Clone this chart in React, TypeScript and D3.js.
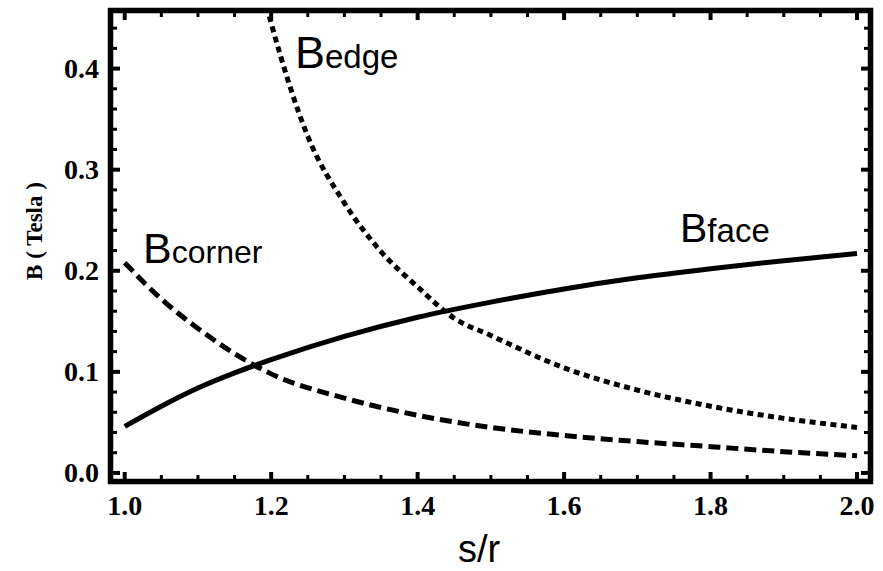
import React from "react";
import * as d3 from "d3";

// Field strength B (Tesla) versus the ratio s/r
const sFace = [1.0, 1.05, 1.1, 1.15, 1.2, 1.3, 1.4, 1.5, 1.6, 1.7, 1.8, 1.9, 2.0];
const bFace = [0.046, 0.066, 0.084, 0.099, 0.112, 0.135, 0.154, 0.169, 0.182, 0.193, 0.202, 0.21, 0.217];

const sCorner = [1.0, 1.05, 1.1, 1.15, 1.2, 1.3, 1.4, 1.5, 1.6, 1.7, 1.8, 1.9, 2.0];
const bCorner = [0.208, 0.172, 0.143, 0.118, 0.098, 0.074, 0.057, 0.045, 0.037, 0.031, 0.026, 0.021, 0.017];

const sEdge = [1.19, 1.2, 1.25, 1.3, 1.35, 1.4, 1.45, 1.5, 1.6, 1.7, 1.8, 1.9, 2.0];
const bEdge = [0.472, 0.445, 0.333, 0.267, 0.219, 0.184, 0.153, 0.136, 0.104, 0.082, 0.066, 0.054, 0.045];

const xMajorTicks = [1.0, 1.2, 1.4, 1.6, 1.8, 2.0];
const yMajorTicks = [0.0, 0.1, 0.2, 0.3, 0.4];

const W = 883;
const H = 571;
const left = 113;
const right = 868;
const top = 13;
const bottom = 479;

const x = d3.scaleLinear().domain([0.984, 2.015]).range([left, right]);
const y = d3.scaleLinear().domain([-0.006, 0.455]).range([bottom, top]);

const xMinor = d3.range(0, 21).map((i) => 1 + i * 0.05);
const yMinor = d3.range(0, 23).map((i) => i * 0.02);

const line = d3
  .line<[number, number]>()
  .x((d) => x(d[0]))
  .y((d) => y(d[1]))
  .curve(d3.curveMonotoneX);

const zip = (a: number[], b: number[]) => a.map((v, i) => [v, b[i]] as [number, number]);

const tickFont = "'Liberation Serif', 'Times New Roman', serif";
const labelFont = "'Liberation Sans', Arial, Helvetica, sans-serif";

function isMajor(v: number, majors: number[]) {
  return majors.some((m) => Math.abs(m - v) < 1e-6);
}

function Label({ px, py, sub, size, subSize }: { px: number; py: number; sub: string; size: number; subSize: number }) {
  return (
    <text x={px} y={py} fontFamily={labelFont} fill="#000">
      <tspan fontSize={size}>B</tspan>
      <tspan fontSize={subSize}>{sub}</tspan>
    </text>
  );
}

export default function App() {
  return (
    <svg
      width={W}
      height={H}
      style={{ position: "absolute", left: 0, top: 0, background: "#fff" }}
    >
      <defs>
        <clipPath id="plotArea">
          <rect x={left} y={top} width={right - left} height={bottom - top} />
        </clipPath>
      </defs>

      <g clipPath="url(#plotArea)" fill="none" stroke="#000" strokeWidth={5}>
        <path d={line(zip(sFace, bFace)) || ""} />
        <path d={line(zip(sCorner, bCorner)) || ""} strokeDasharray="12 6" />
        <path d={line(zip(sEdge, bEdge)) || ""} strokeDasharray="6 4.5" />
      </g>

      {/* ticks on all four sides, pointing inward */}
      <g stroke="#000">
        {xMinor.map((v, i) => {
          const major = isMajor(v, xMajorTicks);
          const len = major ? 7 : 4;
          const sw = major ? 4 : 3;
          return (
            <g key={"xt" + i}>
              <line x1={x(v)} x2={x(v)} y1={bottom} y2={bottom - len} strokeWidth={sw} />
              <line x1={x(v)} x2={x(v)} y1={top} y2={top + len} strokeWidth={sw} />
            </g>
          );
        })}
        {yMinor.map((v, i) => {
          const major = isMajor(v, yMajorTicks);
          const len = major ? 7 : 4;
          const sw = major ? 4 : 3;
          return (
            <g key={"yt" + i}>
              <line x1={left} x2={left + len} y1={y(v)} y2={y(v)} strokeWidth={sw} />
              <line x1={right} x2={right - len} y1={y(v)} y2={y(v)} strokeWidth={sw} />
            </g>
          );
        })}
      </g>

      {/* frame */}
      <rect
        x={left - 2.5}
        y={top - 2.5}
        width={right - left + 5}
        height={bottom - top + 5}
        fill="none"
        stroke="#000"
        strokeWidth={5.5}
      />

      {/* tick labels */}
      <g fontFamily={tickFont} fontWeight="bold" fontSize={28} fill="#000">
        {xMajorTicks.map((v) => (
          <text key={"xl" + v} x={x(v)} y={515} textAnchor="middle">
            {v.toFixed(1)}
          </text>
        ))}
        {yMajorTicks.map((v) => (
          <text key={"yl" + v} x={99} y={y(v) + 9} textAnchor="end">
            {v.toFixed(1)}
          </text>
        ))}
      </g>

      {/* axis titles */}
      <text
        x={479}
        y={562}
        textAnchor="middle"
        fontFamily={labelFont}
        fontSize={38}
        fill="#000"
      >
        s/r
      </text>
      <text
        transform={`translate(42, 231) rotate(-90)`}
        textAnchor="middle"
        fontFamily={tickFont}
        fontWeight="bold"
        fontSize={23}
        fill="#000"
      >
        B ( Tesla )
      </text>

      {/* curve labels */}
      <Label px={295} py={68} sub="edge" size={45} subSize={33} />
      <Label px={143} py={263} sub="corner" size={43} subSize={32} />
      <Label px={680} py={242} sub="face" size={41} subSize={33} />
    </svg>
  );
}
